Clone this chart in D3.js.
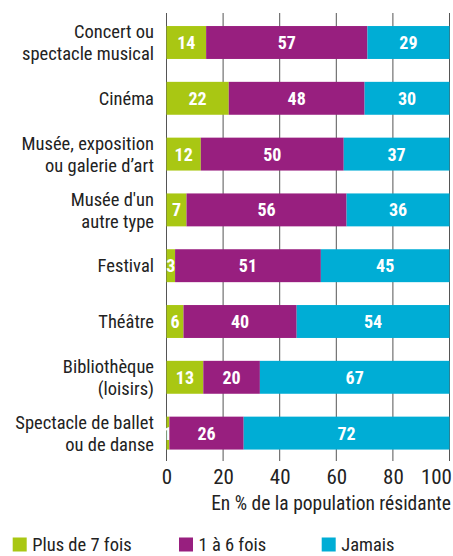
<!DOCTYPE html>
<html>
<head>
<meta charset="utf-8">
<script src="https://cdn.jsdelivr.net/npm/d3@7"></script>
<style>
body { margin: 0; background: #fff; }
svg text { font-family: "Liberation Sans Narrow", "Arial Narrow", "Roboto Condensed", "Liberation Sans", sans-serif; }
</style>
</head>
<body>
<svg id="chart" width="453" height="556"></svg>
<script>
const categories = [
  ["Concert ou", "spectacle musical"],
  ["Cinéma"],
  ["Musée, exposition", "ou galerie d\u2019art"],
  ["Musée d'un", "autre type"],
  ["Festival"],
  ["Théâtre"],
  ["Bibliothèque", "(loisirs)"],
  ["Spectacle de ballet", "ou de danse"]
];
const seriesNames = ["Plus de 7 fois", "1 à 6 fois", "Jamais"];
const plus7 = [14, 22, 12, 7, 3, 6, 13, 1];
const un6 = [57, 48, 50, 56, 51, 40, 20, 26];
const jamais = [29, 30, 37, 36, 45, 54, 67, 72];
const xTicks = [0, 20, 40, 60, 80, 100];
const xTitle = "En % de la population résidante";
const colors = ["#a9c713", "#981f7f", "#00add5"];

const svg = d3.select("#chart");
const keys = categories.map(c => c.join(" "));
const rows = keys.map((k, i) => ({ key: k, s0: plus7[i], s1: un6[i], s2: jamais[i] }));

const x = d3.scaleLinear().domain([0, 100]).range([166.5, 449.5]);
const xf = d3.scaleLinear().domain([0, 1]).range([166.5, 449.5]);
const y = d3.scaleBand().domain(keys).range([14.6, 461]).paddingInner(0.41).paddingOuter(0.205);

// gridlines
svg.append("g").selectAll("line").data(xTicks).join("line")
  .attr("x1", d => x(d)).attr("x2", d => x(d))
  .attr("y1", 13).attr("y2", 461)
  .attr("stroke", "#555").attr("stroke-width", 1);

const stack = d3.stack().keys(["s0", "s1", "s2"]).offset(d3.stackOffsetExpand);
const stacked = stack(rows);

const g = svg.append("g");
stacked.forEach((layer, li) => {
  const k = layer.key;
  g.selectAll(null).data(layer).join("rect")
    .attr("x", d => xf(d[0]))
    .attr("y", d => y(d.data.key))
    .attr("width", d => xf(d[1]) - xf(d[0]))
    .attr("height", y.bandwidth())
    .attr("fill", colors[li]);
  g.selectAll(null).data(layer).join("text")
    .attr("x", d => xf((d[0] + d[1]) / 2))
    .attr("y", d => y(d.data.key) + y.bandwidth() / 2)
    .attr("dy", "0.36em")
    .attr("text-anchor", "middle")
    .attr("fill", "#fff")
    .attr("font-weight", "bold")
    .attr("font-size", 18)
    .text(d => d.data[k]);
});

// category labels
const lab = svg.append("g");
categories.forEach((lines, i) => {
  const cy = y(keys[i]) + y.bandwidth() / 2;
  const lh = 22;
  const t = lab.append("text")
    .attr("text-anchor", "end")
    .attr("font-size", 18.5)
    .attr("fill", "#222");
  lines.forEach((ln, j) => {
    t.append("tspan")
      .attr("x", 154)
      .attr("y", cy + (j - (lines.length - 1) / 2) * lh)
      .attr("dy", "0.36em")
      .text(ln);
  });
});

// x axis
const xAxis = d3.axisBottom(x).tickValues(xTicks).tickSize(0).tickPadding(0);
const ax = svg.append("g").attr("transform", "translate(0,469)").call(xAxis);
ax.select(".domain").remove();
ax.selectAll("text").attr("font-size", 21).attr("fill", "#222").attr("dy", "0.71em");
ax.selectAll("text").filter(d => d === 100).attr("text-anchor", "end").attr("dx", 2);

svg.append("text")
  .attr("x", 451).attr("y", 503).attr("dy", "0.36em")
  .attr("text-anchor", "end")
  .attr("font-size", 19.5).attr("fill", "#222")
  .text(xTitle);

// legend
const legX = [12.7, 179, 321.7];
const leg = svg.append("g");
seriesNames.forEach((n, i) => {
  leg.append("rect").attr("x", legX[i]).attr("y", 537.5).attr("width", 14).attr("height", 14).attr("fill", colors[i]);
  leg.append("text").attr("x", legX[i] + 19.5).attr("y", 544).attr("dy", "0.36em")
    .attr("font-size", 18.5).attr("fill", "#222").text(n);
});
</script>
</body>
</html>
